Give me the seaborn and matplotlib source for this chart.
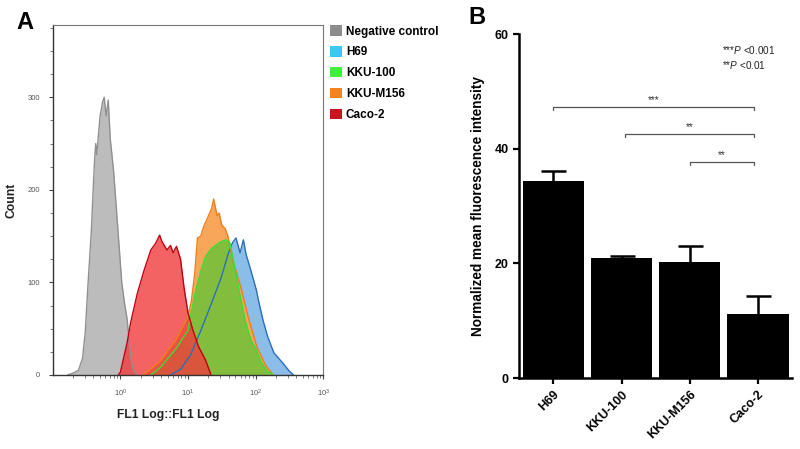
import numpy as np
import pandas as pd
import matplotlib
matplotlib.use("Agg")
import matplotlib.pyplot as plt
from matplotlib.patches import Patch
from matplotlib.ticker import LogLocator, MultipleLocator, NullFormatter, FixedLocator
import seaborn as sns

# Panel A - flow cytometry histograms (log10 of FL1 intensity vs event count)
neg_log = [-0.78, -0.70, -0.62, -0.56, -0.52, -0.48, -0.43, -0.40, -0.38, -0.365, -0.35,
           -0.30, -0.26, -0.24, -0.21, -0.18, -0.15, -0.10, -0.05, 0.02, 0.06, 0.10, 0.15, 0.19, 0.25]
neg_count = [0, 2, 5, 18, 46, 97, 155, 205, 235, 250, 238,
             280, 296, 300, 280, 297, 255, 220, 170, 100, 78, 60, 20, 5, 0]

h69_log = [0.74, 0.89, 1.04, 1.19, 1.34, 1.49, 1.60, 1.66, 1.71, 1.77, 1.82, 1.86, 1.93,
           2.01, 2.05, 2.11, 2.18, 2.27, 2.40, 2.50, 2.56]
h69_count = [0, 6, 22, 48, 76, 105, 132, 143, 148, 132, 146, 130, 113,
             92, 78, 59, 41, 24, 13, 4, 0]

kku100_log = [0.45, 0.59, 0.82, 1.00, 1.04, 1.11, 1.19, 1.26, 1.34, 1.41, 1.49, 1.56, 1.62,
              1.66, 1.72, 1.78, 1.86, 1.93, 2.01, 2.08, 2.17, 2.26]
kku100_count = [0, 8, 28, 48, 65, 90, 112, 128, 136, 140, 144, 146, 143,
                128, 105, 82, 55, 38, 27, 14, 4, 0]

kkum156_log = [0.34, 0.59, 0.82, 1.00, 1.05, 1.10, 1.14, 1.19, 1.23, 1.28, 1.32, 1.35, 1.38,
               1.43, 1.46, 1.50, 1.55, 1.59, 1.66, 1.78, 1.90, 2.02, 2.15, 2.26]
kkum156_count = [0, 15, 38, 63, 80, 110, 148, 150, 160, 168, 175, 180, 190,
                 172, 175, 162, 158, 150, 125, 95, 60, 30, 10, 0]

caco2_log = [-0.03, 0.00, 0.10, 0.15, 0.25, 0.35, 0.45, 0.52, 0.58, 0.61, 0.64, 0.69, 0.74,
             0.78, 0.83, 0.89, 0.94, 1.00, 1.07, 1.16, 1.26, 1.34]
caco2_count = [0, 3, 35, 56, 88, 113, 135, 142, 151, 145, 141, 135, 140,
               132, 139, 125, 95, 67, 49, 30, 16, 0]

legend_labels = ["Negative control", "H69", "KKU-100", "KKU-M156", "Caco-2"]
legend_colors = ["#8c8c8c", "#3cc8f0", "#3cf03c", "#f5821e", "#c8141e"]

# Panel B - normalized mean fluorescence intensity
cells = ["H69", "KKU-100", "KKU-M156", "Caco-2"]
mfi = [34.4, 20.9, 20.3, 11.2]
mfi_sem = [1.8, 0.4, 2.7, 3.2]

sns.set_theme(style="ticks")
plt.rcParams["font.family"] = ["Liberation Sans", "DejaVu Sans"]
plt.rcParams["mathtext.fontset"] = "custom"
plt.rcParams["mathtext.rm"] = "Liberation Sans"
plt.rcParams["mathtext.it"] = "Liberation Sans:italic"
plt.rcParams["text.color"] = "black"
plt.rcParams["axes.labelcolor"] = "black"
plt.rcParams["xtick.color"] = "black"
plt.rcParams["ytick.color"] = "black"

fig = plt.figure(figsize=(8, 4.49), dpi=100)
ax_a = fig.add_axes([0.066, 0.165, 0.338, 0.779])
ax_b = fig.add_axes([0.649, 0.158, 0.341, 0.766])

# ---- panel A ----
ax_a.set_xscale("log")


def draw_hist(ax, logs, counts, fill, edge, alpha):
    df = pd.DataFrame({"fl1": np.power(10.0, logs), "count": counts})
    ax.fill_between(df["fl1"], df["count"], 0, color=fill, alpha=alpha, lw=0)
    sns.lineplot(data=df, x="fl1", y="count", color=edge, lw=1.0, sort=False,
                 estimator=None, ax=ax)


draw_hist(ax_a, neg_log, neg_count, "#bcbcbc", "#909090", 1.0)
draw_hist(ax_a, h69_log, h69_count, "#8bbde9", "#2a6fbf", 1.0)
draw_hist(ax_a, kkum156_log, kkum156_count, "#f7a65a", "#ef7d1a", 1.0)
draw_hist(ax_a, kku100_log, kku100_count, "#6fc23a", "#33e033", 0.85)
draw_hist(ax_a, caco2_log, caco2_count, "#f03c3c", "#c00010", 0.8)

ax_a.set_xlim(0.1, 1000)
ax_a.set_ylim(0, 378)
ax_a.xaxis.set_major_locator(FixedLocator([1, 10, 100, 1000]))
ax_a.set_xticklabels([r"$10^0$", r"$10^1$", r"$10^2$", r"$10^3$"])
ax_a.xaxis.set_minor_locator(LogLocator(base=10, subs=np.arange(2, 10)))
ax_a.xaxis.set_minor_formatter(NullFormatter())
ax_a.yaxis.set_major_locator(FixedLocator([0, 100, 200, 300]))
ax_a.yaxis.set_minor_locator(MultipleLocator(25))
ax_a.tick_params(axis="both", which="major", labelsize=5.5, labelcolor="#555555",
                 length=3, width=0.8, color="#444444", pad=6)
ax_a.tick_params(axis="both", which="minor", length=2, width=0.6, color="#666666")
for side in ["top", "right"]:
    ax_a.spines[side].set_color("#777777")
    ax_a.spines[side].set_linewidth(0.8)
for side in ["left", "bottom"]:
    ax_a.spines[side].set_color("#333333")
    ax_a.spines[side].set_linewidth(1.0)
ax_a.set_xlabel("FL1 Log::FL1 Log", fontsize=8.7, fontweight="bold", color="#222222")
ax_a.set_ylabel("Count", fontsize=8.7, fontweight="bold", color="#222222")
ax_a.xaxis.set_label_coords(0.426, -0.098)
ax_a.yaxis.set_label_coords(-0.13, 0.5)

handles = [Patch(facecolor=c, edgecolor="none") for c in legend_colors]
fig.legend(handles, legend_labels, loc="upper left", bbox_to_anchor=(0.405, 0.957),
           frameon=False, handlelength=1.0, handleheight=1.0,
           handletextpad=0.35, labelspacing=0.72, borderpad=0,
           prop={"weight": "bold", "size": 8.5})

# ---- panel B ----
sns.barplot(x=cells, y=mfi, color="black", width=0.9, saturation=1,
            edgecolor="black", linewidth=0, zorder=2, ax=ax_b)
# symmetric SEM drawn behind the bars so only the upper half shows
ax_b.errorbar(x=np.arange(len(cells)), y=mfi, yerr=mfi_sem, fmt="none", ecolor="black",
              elinewidth=1.8, capsize=9, capthick=1.8, zorder=1)
ax_b.set_xlim(-0.5, 3.5)
ax_b.set_ylim(0, 60)
ax_b.set_yticks([0, 20, 40, 60])
sns.despine(ax=ax_b)
for side in ["left", "bottom"]:
    ax_b.spines[side].set_linewidth(1.8)
    ax_b.spines[side].set_color("black")
ax_b.tick_params(axis="both", length=4, width=1.6, color="black", labelsize=9)
for lbl in ax_b.get_yticklabels():
    lbl.set_fontweight("bold")
for lbl in ax_b.get_xticklabels():
    lbl.set_fontweight("bold")
    lbl.set_rotation(45)
    lbl.set_ha("right")
    lbl.set_rotation_mode("anchor")
ax_b.set_ylabel("Normalized mean fluorescence intensity", fontsize=9.8, fontweight="bold")
ax_b.yaxis.set_label_coords(-0.125, 0.5)

# significance brackets
brackets = [(0.0, 2.95, 47.3, "***"), (1.05, 2.95, 42.6, "**"), (2.0, 2.95, 37.7, "**")]
for x0, x1, yb, star in brackets:
    ax_b.plot([x0, x0, x1, x1], [yb - 0.6, yb, yb, yb - 0.6], color="#555555", lw=0.9)
    ax_b.text((x0 + x1) / 2, yb + 0.3, star, ha="center", va="bottom", fontsize=7.2,
              color="#333333")

fig.text(0.9025, 0.889, r"***$\mathit{P}$ <0.001", fontsize=7.2, va="center", ha="left",
         color="#222222")
fig.text(0.9025, 0.855, r"**$\mathit{P}$ <0.01", fontsize=7.2, va="center", ha="left",
         color="#222222")

fig.text(0.031, 0.951, "A", fontsize=17, fontweight="bold", ha="center", va="center",
         color="black")
fig.text(0.596, 0.962, "B", fontsize=17, fontweight="bold", ha="center", va="center",
         color="black")

fig.savefig("out.png", dpi=100)
